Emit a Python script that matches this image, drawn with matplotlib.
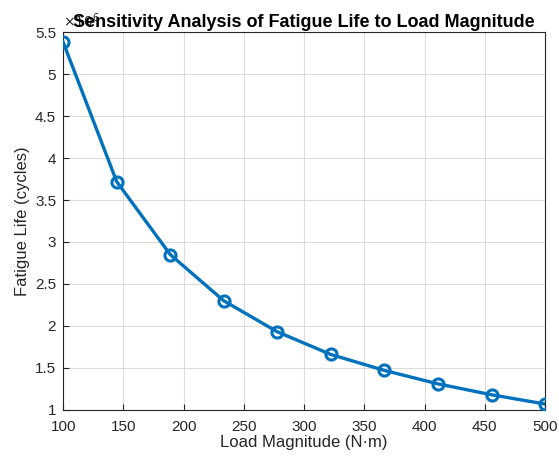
import matplotlib
matplotlib.use("Agg")
import matplotlib.pyplot as plt
import numpy as np

# load magnitude (N*m) and fatigue life (cycles, x1e6)
load = [100, 144.4, 188.9, 233.3, 277.8, 322.2, 366.7, 411.1, 455.6, 500]
life = [5.38, 3.72, 2.85, 2.30, 1.93, 1.66, 1.47, 1.31, 1.18, 1.07]
xticks = [100, 150, 200, 250, 300, 350, 400, 450, 500]
yticks = [1, 1.5, 2, 2.5, 3, 3.5, 4, 4.5, 5, 5.5]

plt.rcParams['font.family'] = ['Arial', 'Liberation Sans', 'DejaVu Sans']

fig = plt.figure(figsize=(5.59, 4.59), dpi=100)
ax = fig.add_axes([0.113, 0.107, 0.862, 0.823])

ax.plot(load, life, color='#0072BD', linewidth=2.4, marker='o',
        markersize=8, markerfacecolor='none', markeredgewidth=2.2, zorder=3)

ax.set_xlim(100, 500)
ax.set_ylim(1, 5.5)
ax.set_xticks(xticks)
ax.set_yticks(yticks)
ax.set_yticklabels([f"{v:g}" for v in yticks])
ax.grid(True, color='#dcdcdc', linewidth=0.8)
ax.set_axisbelow(True)
ax.tick_params(direction='in', labelsize=11, colors='#262626', length=4)
ax.tick_params(axis='x', pad=7)
ax.tick_params(axis='y', pad=5)
for s in ax.spines.values():
    s.set_color('#262626')
    s.set_linewidth(0.8)

ax.set_xlabel('Load Magnitude (N·m)', fontsize=12, color='#262626', labelpad=1)
ax.set_ylabel('Fatigue Life (cycles)', fontsize=12, color='#262626', labelpad=4)
ax.text(0.0, 1.005, r'$\times10^{6}$', transform=ax.transAxes, fontsize=10,
        color='#262626', ha='left', va='bottom')
ax.set_title('Sensitivity Analysis of Fatigue Life to Load Magnitude',
             fontsize=13, fontweight='bold', pad=4)

fig.savefig('out.png', dpi=100)
